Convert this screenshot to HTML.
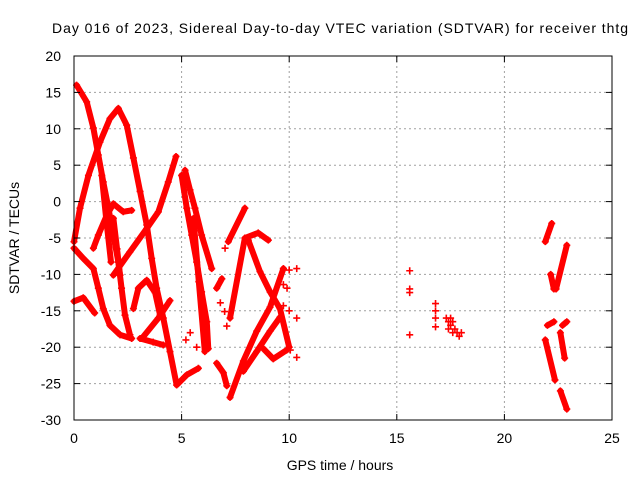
<!DOCTYPE html>
<html><head><meta charset="utf-8"><style>
body{margin:0;background:#fff}
svg{display:block;font-family:"Liberation Sans",sans-serif}
</style></head><body>
<svg id="chart" width="640" height="480">
<rect width="640" height="480" fill="#fff"/>
<text x="340" y="33" font-size="14" text-anchor="middle" textLength="576">Day 016 of 2023, Sidereal Day-to-day VTEC variation (SDTVAR) for receiver thtg</text>
<g id="grid"></g>
<g id="marks"></g>
<rect x="74" y="56" width="538" height="364" fill="none" stroke="#000" stroke-width="1"/>
<g id="ticks"></g>
<text x="340" y="470" font-size="14" text-anchor="middle">GPS time / hours</text>
<text transform="translate(19,238) rotate(-90)" font-size="14" text-anchor="middle">SDTVAR / TECUs</text>
</svg>
<script>
const xTicks=[0,5,10,15,20,25];
const yTicks=[20,15,10,5,0,-5,-10,-15,-20,-25,-30];
const denseTracks=[
 [[0.12,16.0],[0.59,13.7],[0.9,10.1],[1.13,6.4],[1.36,2.7],[1.6,-0.9],[1.83,-4.6],[2.06,-8.3],[2.21,-11.9],[2.37,-15.6],[2.6,-18.3]],
 [[0.0,-5.5],[0.28,-0.9],[0.67,3.6],[1.21,8.2],[1.67,11.4],[2.06,12.8],[2.45,10.5],[2.76,6.0],[3.07,1.4],[3.38,-3.2],[3.61,-7.8],[3.84,-11.9],[4.15,-16.0],[4.46,-20.6],[4.77,-25.2],[5.24,-23.8],[5.78,-22.9]],
 [[0.0,-6.4],[0.43,-7.8],[0.9,-9.2],[1.13,-11.9],[1.36,-14.7],[1.67,-17.0],[2.14,-18.3],[2.68,-18.8]],
 [[0.9,-6.4],[1.13,-4.6],[1.52,-1.9],[1.83,-0.3],[2.29,-1.4],[2.68,-1.2]],
 [[1.83,-10.1],[2.6,-6.9],[3.38,-3.7],[3.92,-1.4],[4.38,2.7],[4.74,6.2]],
 [[3.15,-18.8],[3.92,-16.0],[4.46,-13.6]],
 [[2.76,-14.7],[2.99,-11.9],[3.38,-10.8],[3.77,-12.5],[4.0,-15.6]],
 [[3.07,-18.8],[3.68,-19.3],[4.15,-19.7]],
 [[0.0,-13.7],[0.43,-13.2],[0.96,-15.3]],
 [[1.29,3.6],[1.5,-2.5],[1.72,-8.3]],
 [[1.83,-2.3],[2.0,-6.5],[2.14,-10.1]],
 [[5.55,-2.3],[5.8,-11.0],[6.08,-20.6]],
 [[5.16,4.3],[5.39,1.6],[5.62,-0.9],[5.93,-4.6],[6.4,-9.2]],
 [[5.0,3.6],[5.24,-0.9],[5.47,-4.6],[5.7,-8.3],[5.93,-12.4],[6.17,-16.5],[6.24,-20.2]],
 [[7.25,-26.9],[7.87,-21.9],[8.49,-17.8],[9.11,-14.5],[9.73,-9.2]],
 [[7.25,-16.0],[7.94,-5.0],[8.56,-4.3],[9.03,-5.3]],
 [[8.1,-5.3],[8.64,-9.6],[9.11,-12.4],[9.57,-14.7],[10.0,-20.0]],
 [[7.87,-23.3],[8.49,-20.6],[9.11,-17.8],[9.57,-15.9]],
 [[8.8,-20.2],[9.26,-21.6],[9.88,-20.4]],
 [[6.63,-22.2],[6.94,-23.5],[7.1,-25.3]],
 [[7.17,-5.5],[7.94,-0.9]],
 [[6.63,-11.9],[6.87,-10.6]],
 [[21.9,-5.5],[22.2,-3.0]],
 [[22.15,-10.0],[22.3,-12.0]],
 [[22.4,-12.0],[22.9,-6.0]],
 [[21.9,-19.0],[22.35,-24.5]],
 [[22.0,-17.0],[22.3,-16.5]],
 [[22.6,-18.0],[22.8,-21.5]],
 [[22.7,-17.0],[22.9,-16.5]],
 [[22.6,-26.0],[22.9,-28.5]]
];
const sparsePoints=[
 [7.02,-6.4],[6.8,-13.9],[7.0,-15.1],[7.1,-17.1],[5.4,-18],[5.7,-20],[5.2,-19],
 [9.73,-9.2],[10.0,-9.4],[10.35,-9.2],[9.73,-11.4],[9.9,-11.9],[9.73,-14.3],[10.0,-15.0],[10.35,-16.0],[10.05,-20.4],[10.35,-21.4],
 [15.6,-9.5],[15.6,-12],[15.6,-12.5],[15.6,-18.3],
 [16.8,-14],[16.8,-15],[16.8,-16],[16.8,-17.2],
 [17.3,-16],[17.4,-16.5],[17.5,-17],[17.6,-16.5],[17.7,-17.5],[17.8,-18],[17.9,-18.5],[18,-18],[17.4,-17.5],[17.6,-18],[17.5,-16]
];
const NS='http://www.w3.org/2000/svg';
const X=v=>74+v*538/25, Y=v=>56+(20-v)*364/50;
const grid=document.getElementById('grid'),ticks=document.getElementById('ticks'),marks=document.getElementById('marks');
function mk(tag,parent,attrs){const e=document.createElementNS(NS,tag);for(const k in attrs)e.setAttribute(k,attrs[k]);parent.appendChild(e);return e;}
xTicks.forEach(t=>{
 const x=X(t);
 if(t>0&&t<25){const g=mk('line',grid,{x1:x,x2:x,y1:56,y2:420,stroke:'#a0a0a0','stroke-dasharray':'2,3'});
 
 }
 mk('line',ticks,{x1:x,x2:x,y1:420,y2:414,stroke:'#000'});
 mk('line',ticks,{x1:x,x2:x,y1:56,y2:62,stroke:'#000'});
 const l=mk('text',ticks,{x:x,y:443,'font-size':14,'text-anchor':'middle'});l.textContent=t;
 
 
});
yTicks.forEach(t=>{
 const y=Y(t);
 if(t<20&&t>-30){const g=mk('line',grid,{x1:74,x2:612,y1:y,y2:y,stroke:'#a0a0a0','stroke-dasharray':'2,3'});
 
 }
 mk('line',ticks,{x1:74,x2:80,y1:y,y2:y,stroke:'#000'});
 mk('line',ticks,{x1:612,x2:606,y1:y,y2:y,stroke:'#000'});
 const l=mk('text',ticks,{x:61,y:y+5,'font-size':14,'text-anchor':'end'});l.textContent=t;
 
 
});
function plus(x,y,parent){mk('path',parent,{d:`M${x-3.5},${y}h7M${x},${y-3.5}v7`,stroke:'#f00','stroke-width':1.6,fill:'none'});}
denseTracks.forEach(tr=>{
 const g=mk('g',marks,{});
 
 
 mk('polyline',g,{points:tr.map(p=>X(p[0])+','+Y(p[1])).join(' '),fill:'none',stroke:'#f00','stroke-width':6,'stroke-linejoin':'round','stroke-linecap':'round'});
 tr.forEach(p=>plus(X(p[0]),Y(p[1]),g));
});
sparsePoints.forEach(p=>{
 const g=mk('g',marks,{});
 
 
 plus(X(p[0]),Y(p[1]),g);
});
</script>
</body></html>
